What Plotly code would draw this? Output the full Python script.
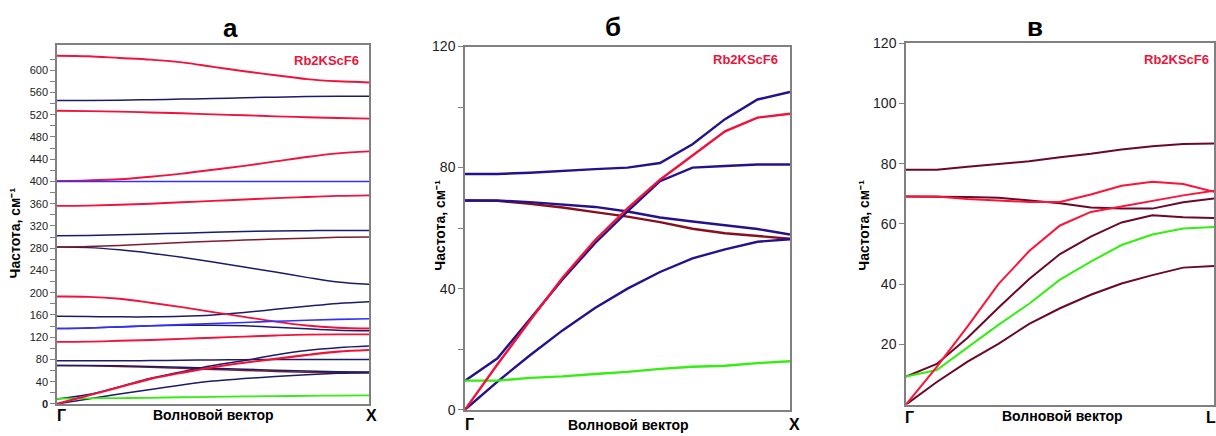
import plotly.graph_objects as go

# Fractional position along the wave-vector path (Г at 0, zone edge at 1)
T = [0.0, 0.1, 0.2, 0.3, 0.4, 0.5, 0.6, 0.7, 0.8, 0.9, 1.0]

# ---- Panel а: Г–X, full phonon spectrum (cm^-1) ----
a_red_626 = [626, 625, 622, 619, 614, 606, 598, 591, 584, 580, 578]
a_navy_545 = [545.5, 545.5, 546, 547, 548, 549, 550.5, 551.5, 552.5, 553, 553]
a_red_527 = [527, 526.5, 525.5, 524, 522.5, 520.5, 519, 517, 515.5, 514, 513]
a_red_401 = [401, 402, 404, 408.5, 414, 421, 428, 436, 444, 450.5, 454]
a_blue_400 = [400, 400, 400, 400, 400, 400, 400, 400, 400, 400, 400]
a_red_356 = [356, 356.5, 358, 360, 362.5, 365, 367.5, 370, 372, 374, 375]
a_navy_302 = [302.5, 303, 304, 305.5, 307, 308.5, 310, 311, 311.5, 312, 312]
a_maroon_282 = [282, 283, 285, 287.5, 290, 292.5, 294.5, 296.5, 298, 299.5, 300]
a_navy_282 = [282, 281, 277, 271, 263.5, 255, 246, 237, 227.5, 219, 215]
a_red_193 = [193, 192.5, 189, 182, 174, 165, 156.5, 148, 141, 137, 135.5]
a_navy_157 = [157.5, 157, 156.5, 156.5, 157.5, 160, 164.5, 170, 175.5, 180.5, 183.5]
a_blue_135 = [135.5, 136.5, 138.5, 140.5, 142.5, 144.5, 146.5, 148.5, 150.5, 152, 153]
a_navy_135 = [135.5, 136.5, 138.5, 140.5, 141.5, 141.5, 140.5, 138, 135, 132.5, 131.5]
a_red_111 = [111.5, 112, 113.5, 115, 117, 119, 121, 123, 124.5, 125, 125]
a_navy_77 = [77.5, 77.5, 77.5, 78, 78.5, 79, 79.5, 80, 80, 80, 80]
a_navy_69 = [69, 69, 68.5, 67.5, 66, 64, 62.5, 60.5, 59, 58, 57.5]
a_maroon_69 = [69, 68.5, 67.5, 66, 64, 62, 60, 58.5, 57, 56, 55.5]
a_navy_9 = [9, 17, 31, 46, 58, 69, 78, 88, 96, 101, 104]
a_red_0 = [0, 15, 30, 45, 56, 66, 74, 81, 88, 94, 97]
a_navy_0 = [0, 9, 18, 26, 34, 41, 45.5, 49.5, 52.5, 55, 56.5]
a_green_9 = [9.5, 10, 10.5, 11, 12, 12.5, 13.5, 14, 14.5, 15, 15.5]

# ---- Panel б: Г–X, acoustic / low-frequency region ----
b_navy_78 = [77.9, 77.9, 78.3, 79, 79.5, 80, 81.5, 87.7, 96, 102.5, 105]
b_navy_69 = [69.1, 69.1, 68.6, 67.8, 67, 65.5, 63.5, 62.2, 61, 59.7, 57.9]
b_maroon_69 = [69.1, 69, 68, 66.8, 65.3, 63.8, 62, 59.8, 58.3, 57.3, 56.5]
b_navy_9 = [9.6, 17, 30, 43, 55, 65.5, 75.5, 80, 80.5, 81, 81]
b_navy_0 = [0, 9.3, 18, 26.2, 33.6, 40, 45.5, 50, 53, 55.5, 56.3]
b_green_9 = [9.6, 9.6, 10.5, 11, 11.8, 12.5, 13.5, 14.2, 14.5, 15.4, 16]
b_red_0 = [0, 15, 29.5, 43.6, 56, 66.5, 76, 84, 92, 96.5, 97.8]

# ---- Panel в: Г–L, acoustic / low-frequency region ----
c_maroon_78 = [78, 78, 79, 80, 80.8, 82.2, 83.3, 84.7, 85.8, 86.6, 86.7]
c_maroon_69 = [69.1, 69.1, 69, 68.7, 67.8, 66.9, 65.5, 65.1, 65.1, 67.2, 68.5]
c_red_69 = [69.1, 69.1, 68.3, 67.7, 67.3, 67.3, 69.8, 72.7, 74, 73.3, 70.7]
c_red_0 = [0, 12.5, 26, 40, 51, 59.5, 64, 65.8, 67.6, 69.5, 71]
c_maroon_9 = [9.3, 13.5, 22.2, 32.2, 41.7, 50, 55.8, 60.5, 62.9, 62.2, 62]
c_green_9 = [9.3, 11.5, 19, 26.5, 33.5, 41.5, 47.5, 53, 56.5, 58.5, 59]
c_maroon_0 = [0, 7.5, 14.3, 20.2, 26.8, 32, 36.5, 40.2, 43, 45.5, 46]

# Tick values
a_major = [0, 40, 80, 120, 160, 200, 240, 280, 320, 360, 400, 440, 480, 520, 560, 600]
a_minor = [20, 60, 100, 140, 180, 220, 260, 300, 340, 380, 420, 460, 500, 540, 580, 620]
b_major = [0, 40, 80, 120]
b_minor = [20, 60, 100]
c_major = [20, 40, 60, 80, 100, 120]

# Line styles
RED = "#f0123a"
NAVY_A = "#1c1c66"
BLUE_A = "#3030ff"
MAROON_A = "#7e1c2c"
GREEN = "#33ee11"
NAVY_B = "#24128c"
MAROON_B = "#8a0f1c"
MAROON_C = "#6a0828"
RED_C = "#ff1238"

panel_a = [
    (a_navy_545, NAVY_A, 1.5), (a_navy_302, NAVY_A, 1.5), (a_navy_282, NAVY_A, 1.5),
    (a_maroon_282, MAROON_A, 1.5), (a_navy_157, NAVY_A, 1.5), (a_navy_135, NAVY_A, 1.5),
    (a_navy_77, NAVY_A, 1.5), (a_maroon_69, MAROON_A, 1.5), (a_navy_69, NAVY_A, 1.5),
    (a_navy_9, NAVY_A, 1.5), (a_navy_0, NAVY_A, 1.5), (a_green_9, GREEN, 1.8),
    (a_red_626, RED, 1.9), (a_red_527, RED, 1.9), (a_red_401, RED, 1.9),
    (a_red_356, RED, 1.9), (a_red_193, RED, 1.9), (a_red_111, RED, 1.9),
    (a_red_0, RED, 2.1), (a_blue_400, BLUE_A, 1.5), (a_blue_135, BLUE_A, 1.6),
]
panel_b = [
    (b_navy_78, NAVY_B), (b_maroon_69, MAROON_B), (b_navy_69, NAVY_B),
    (b_navy_9, NAVY_B), (b_navy_0, NAVY_B), (b_green_9, GREEN),
    (b_red_0, RED),
]
panel_c = [
    (c_maroon_78, MAROON_C), (c_maroon_69, MAROON_C), (c_maroon_9, MAROON_C),
    (c_maroon_0, MAROON_C), (c_green_9, GREEN), (c_red_69, RED_C),
    (c_red_0, RED_C),
]

fig = go.Figure()
for vals, col, w in panel_a:
    fig.add_trace(go.Scatter(x=T, y=vals, mode="lines", xaxis="x", yaxis="y",
                             line=dict(color=col, width=w, shape="spline"),
                             showlegend=False, hoverinfo="skip"))
for vals, col in panel_b:
    fig.add_trace(go.Scatter(x=T, y=vals, mode="lines", xaxis="x2", yaxis="y2",
                             line=dict(color=col, width=2.4),
                             showlegend=False, hoverinfo="skip"))
for vals, col in panel_c:
    fig.add_trace(go.Scatter(x=T, y=vals, mode="lines", xaxis="x3", yaxis="y3",
                             line=dict(color=col, width=2),
                             showlegend=False, hoverinfo="skip"))

W, H = 1216, 436
FONT = "Liberation Sans, Arial, sans-serif"
AX = "#808080"


def px(x):
    return x / W


def py(y):
    return 1 - y / H


def xaxis(x0, x1, anchor):
    return dict(domain=[px(x0), px(x1)], range=[0, 1], anchor=anchor,
                showline=True, linecolor=AX, linewidth=1.5, mirror=True,
                showticklabels=False, ticks="", showgrid=False, zeroline=False,
                fixedrange=True)


def yaxis(y_top, y_bot, anchor, rng, major, text, minor, size):
    ax = dict(domain=[py(y_bot), py(y_top)], range=rng, anchor=anchor,
              showline=True, linecolor=AX, linewidth=1.5, mirror=True,
              tickmode="array", tickvals=major, ticktext=text,
              ticks="outside", ticklen=5, tickcolor=AX, tickwidth=1,
              tickfont=dict(family=FONT, size=size, color="#222222"),
              showgrid=False, zeroline=False, fixedrange=True)
    if minor:
        ax["minor"] = dict(tickmode="array", tickvals=minor, ticks="outside",
                           ticklen=5, tickcolor=AX, tickwidth=1, showgrid=False)
    return ax


a_text = ["<b>0</b>" if v == 0 else str(v) for v in a_major]
b_text = [str(v) for v in b_major]
c_text = [str(v) for v in c_major]

fig.update_layout(
    width=W, height=H, margin=dict(l=0, r=0, t=0, b=0),
    paper_bgcolor="white", plot_bgcolor="white",
    xaxis=xaxis(57, 369, "y"),
    yaxis=yaxis(38, 411, "x", [0, 646], a_major, a_text, a_minor, 11),
    xaxis2=xaxis(465, 790, "y2"),
    yaxis2=yaxis(40, 417, "x2", [0, 120], b_major, b_text, b_minor, 14),
    xaxis3=xaxis(906, 1214, "y3"),
    yaxis3=yaxis(36.7, 411.7, "x3", [0, 120], c_major, c_text, None, 14),
)

ann = []


def text(x, y, s, size, color="black", angle=0, bold=True):
    ann.append(dict(x=px(x), y=py(y), xref="paper", yref="paper",
                    text=f"<b>{s}</b>" if bold else s, showarrow=False,
                    textangle=angle, xanchor="center", yanchor="middle",
                    font=dict(family=FONT, size=size, color=color)))


# panel letters
text(230, 21, "а", 26)
text(613, 20, "б", 26)
text(1035, 20, "в", 26)

# compound label
for x, y in [(326, 54), (745, 53), (1176, 53)]:
    text(x, y, "Rb2KScF6", 13, color="#e8163c")

# frequency axis titles
ylab = "Частота, см⁻¹"
text(15, 234, ylab, 14, angle=-90)
text(440, 226, ylab, 14, angle=-90)
text(864, 226, ylab, 14, angle=-90)

# wave-vector axes
text(61, 423, "Г", 16)
text(213, 422, "Волновой вектор", 14)
text(371, 423, "X", 16)
text(469, 432, "Г", 16)
text(628, 433, "Волновой вектор", 14)
text(794, 432, "X", 16)
text(909, 425, "Г", 16)
text(1062, 424, "Волновой вектор", 14)
text(1211, 425, "L", 16)

fig.update_layout(annotations=ann)
fig.write_html("out.html")
